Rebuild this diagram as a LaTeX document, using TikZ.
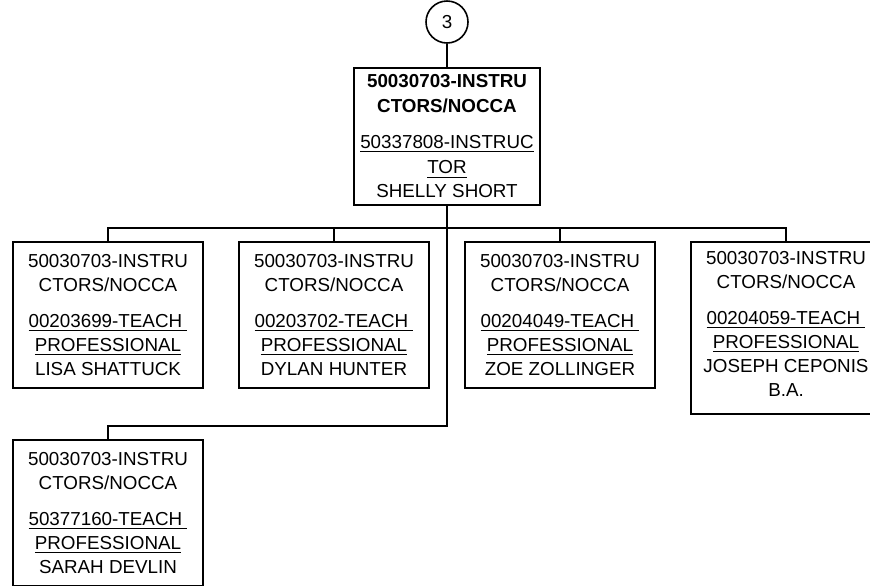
\documentclass[tikz,border=0pt]{standalone}
\usepackage{fontspec}
\setmainfont{Liberation Sans}
\usetikzlibrary{positioning}
\newcommand{\teachbox}[2]{50030703-INSTRU\\ CTORS/NOCCA\\[6pt] \underline{#1-TEACH\ }\\ \underline{PROFESSIONAL}\\ #2}

\begin{document}
\begin{tikzpicture}[x=0.5pt,y=-0.5pt,line width=0.8pt]
	\tikzset{
		N/.style={draw,minimum width=95pt,minimum height=73pt,align=center,inner xsep=2pt,inner ysep=4pt,anchor=north,font=\fontsize{9.4}{12}\selectfont},
	}
	\useasboundingbox (0,0) rectangle (870,585);
	
	\node[draw,circle,minimum size=21pt,inner sep=0pt,font=\fontsize{9.4}{12}\selectfont] (0) at (447,22) {3};
	\node[N,minimum width=93pt,minimum height=68.5pt,inner ysep=3pt] (1) at (447,67) {
		\textbf{50030703-INSTRU}\\[0.6pt]
		\textbf{CTORS/NOCCA}\\[6pt]
		\underline{50337808-INSTRUC}\\[0.6pt]
		\underline{TOR}\\
		SHELLY SHORT
	};
	\node[N] (2) at (108,241) {\teachbox{00203699}{LISA SHATTUCK}};
	\node[N] (3) at (334,241) {\teachbox{00203702}{DYLAN HUNTER}};
	\node[N] (4) at (560,241) {\teachbox{00204049}{ZOE ZOLLINGER}};
	\node[N,minimum height=86pt,text depth=4pt] (5) at (786,241) {\teachbox{00204059}{JOSEPH CEPONIS\\ B.A.}};
	\node[N] (6) at (108,439) {\teachbox{50377160}{SARAH DEVLIN}};
	\coordinate (bus) at (447,228);
	\coordinate (drop) at (447,426);
	
	\draw (0) -- (1);
	\foreach \n in {2,...,5}
		\draw (1.south) -- (1.south |- bus) -| (\n.north);
	\draw (1.south |- bus) -- (drop) -| (6.north);
\end{tikzpicture}
\end{document}
